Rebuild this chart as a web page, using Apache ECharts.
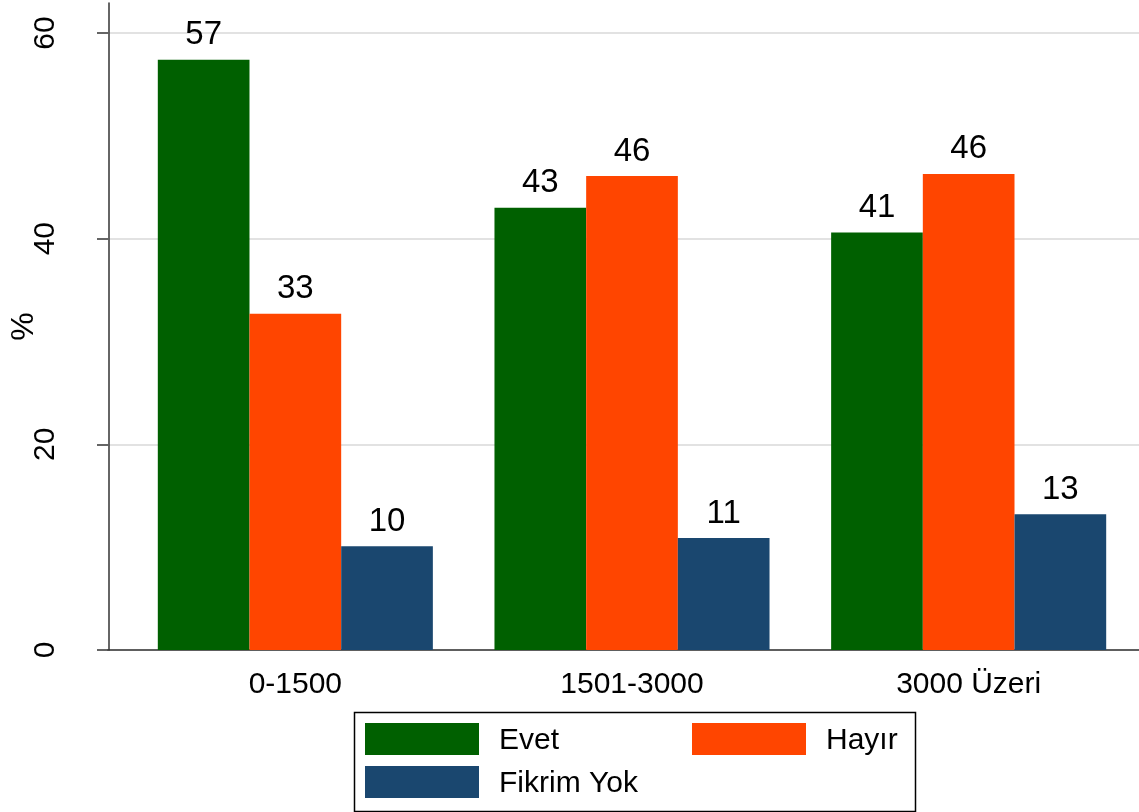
<!DOCTYPE html>
<html>
<head>
<meta charset="utf-8">
<script src="https://cdn.jsdelivr.net/npm/echarts@6/dist/echarts.min.js"></script>
<style>
html,body{margin:0;padding:0;background:#fff;}
#chart{width:1139px;height:812px;}
</style>
</head>
<body>
<div id="chart"></div>
<script>
var categories = ['0-1500', '1501-3000', '3000 Üzeri'];
var evet = [57.4, 43.0, 40.6];
var hayir = [32.7, 46.1, 46.3];
var fikrimYok = [10.1, 10.9, 13.2];
var seriesNames = ['Evet', 'Hayır', 'Fikrim Yok'];
var colors = ['#006000', '#ff4500', '#1a476f'];
var yTicks = [0, 20, 40, 60];

var FONT = '"Liberation Sans", Arial, sans-serif';
var chart = echarts.init(document.getElementById('chart'));

function barSeries(name, data, color) {
  return {
    name: name, type: 'bar', data: data,
    xAxisIndex: 2, yAxisIndex: 2,
    barGap: '0%', barCategoryGap: '18.3%',
    itemStyle: { color: color },
    label: {
      show: true, position: 'top', distance: 8,
      fontFamily: FONT, fontSize: 33, color: '#000',
      formatter: function (p) { return Math.round(p.value); }
    }
  };
}

function legendAt(name, left, top) {
  return {
    data: [name], left: left, top: top, padding: 0,
    itemWidth: 114, itemHeight: 32, selectedMode: false,
    icon: 'rect',
    formatter: '{t|{name}}',
    textStyle: {
      fontFamily: FONT, fontSize: 30, color: '#000',
      rich: { t: { fontFamily: FONT, fontSize: 30, color: '#000', padding: [4, 0, 0, 15] } }
    }
  };
}

var option = {
  backgroundColor: '#fff',
  animation: false,
  color: colors,
  grid: [
    { left: 108, right: 0, top: 3, bottom: 162 },
    { left: 108, right: 0, top: 33, bottom: 162 },
    { left: 127, right: 2, top: 33, bottom: 162 }
  ],
  xAxis: [
    { gridIndex: 0, type: 'category', data: categories, show: false },
    { gridIndex: 1, type: 'category', data: categories,
      axisLine: { show: true, lineStyle: { color: '#333', width: 1.5 } },
      axisTick: { show: false }, axisLabel: { show: false } },
    { gridIndex: 2, type: 'category', data: categories,
      axisLine: { show: false }, axisTick: { show: false },
      axisLabel: { fontFamily: FONT, fontSize: 30, color: '#000', margin: 20 } }
  ],
  yAxis: [
    { gridIndex: 0, type: 'value', min: 0, max: 62.92,
      name: '%', nameLocation: 'middle', nameGap: 69, nameRotate: 90,
      nameTextStyle: { fontFamily: FONT, fontSize: 32, color: '#000' },
      axisLine: { show: true, lineStyle: { color: '#333', width: 1.5 } },
      axisTick: { show: false }, axisLabel: { show: false }, splitLine: { show: false } },
    { gridIndex: 1, type: 'value', min: yTicks[0], max: yTicks[yTicks.length - 1], interval: 20,
      axisLine: { show: false },
      axisTick: { show: true, length: 11, lineStyle: { color: '#333', width: 1.5 } },
      axisLabel: { rotate: 90, fontFamily: FONT, fontSize: 30, color: '#000', margin: 47 },
      splitLine: { show: true, lineStyle: { color: '#e2e2e2', width: 2 } } },
    { gridIndex: 2, type: 'value', min: yTicks[0], max: yTicks[yTicks.length - 1], show: false }
  ],
  legend: [
    legendAt(seriesNames[0], 365, 723),
    legendAt(seriesNames[1], 692, 723),
    legendAt(seriesNames[2], 365, 766)
  ],
  graphic: [
    { type: 'rect', left: 352, top: 710, silent: true,
      shape: { width: 561, height: 99 },
      style: { fill: 'none', stroke: '#000', lineWidth: 1.5 } }
  ],
  series: [
    barSeries(seriesNames[0], evet, colors[0]),
    barSeries(seriesNames[1], hayir, colors[1]),
    barSeries(seriesNames[2], fikrimYok, colors[2])
  ]
};
chart.setOption(option);
</script>
</body>
</html>
